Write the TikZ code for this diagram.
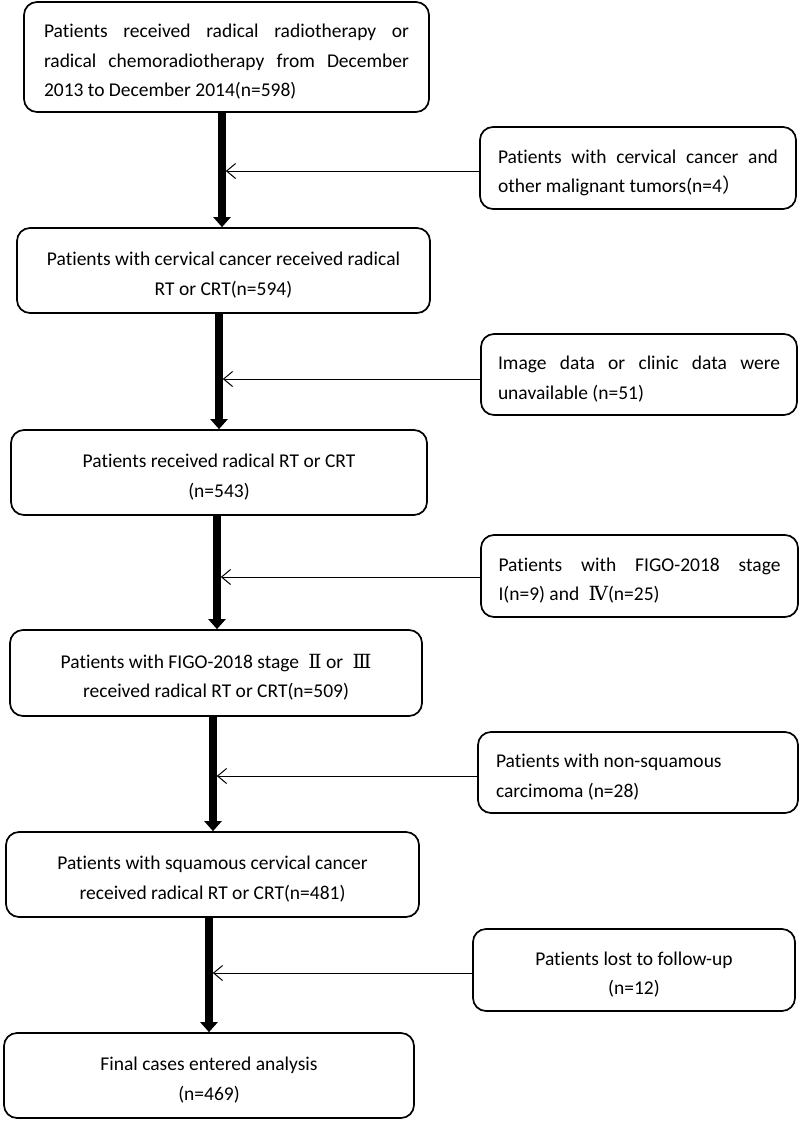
\documentclass[tikz,border=0pt]{standalone}
\usepackage{fontspec}
\setmainfont{Carlito}[Ligatures=NoCommon]
\newfontfamily\cjk{Noto Sans CJK SC}
\newfontfamily\romf{DejaVu Serif}
\usetikzlibrary{arrows.meta}
\tikzset{
  box/.style={draw, line width=1.7pt, rounded corners=13pt, inner sep=0pt,
    font=\fontsize{19.5}{29.5}\selectfont,
    execute at begin node={\spaceskip=0pt\xspaceskip=0pt\relax}},
  mainarrow/.style={line width=7.5pt, -{Triangle[length=10pt,width=17pt]}},
  sidearrow/.style={line width=1pt, -{Straight Barb[length=9pt,width=15pt]}},
}
\newcommand{\rn}[1]{{\romf #1}}
\newcommand{\st}{\rule{0pt}{23pt}}
\begin{document}
\begin{tikzpicture}[x=1pt,y=-1pt]
\fill[white] (0,0) rectangle (800,1122);
\useasboundingbox (0,0) rectangle (800,1122);

% main column
\node[box, minimum width=405pt, minimum height=110pt, text width=365pt, align=left] (b1) at (226.5,57)
  {\st\makebox[365pt][s]{Patients received radical radiotherapy or}\\
   \makebox[365pt][s]{radical chemoradiotherapy from December}\\
   2013 to December 2014(n=598)};
\node[box, minimum width=413pt, minimum height=85pt, align=center] (b2) at (223.5,270.5)
  {\st Patients with cervical cancer received radical\\ RT or CRT(n=594)};
\node[box, minimum width=416pt, minimum height=85pt, align=center] (b3) at (219,472.5)
  {\st Patients received radical RT or CRT\\ (n=543)};
\node[box, minimum width=412pt, minimum height=86pt, align=center] (b4) at (216,673)
  {\st Patients with FIGO-2018 stage \hspace{0.25em}\rn{Ⅱ} or \hspace{0.25em}\rn{Ⅲ}\\ received radical RT or CRT(n=509)};
\node[box, minimum width=413pt, minimum height=85pt, align=center] (b5) at (212.5,874.5)
  {\st Patients with squamous cervical cancer\\ received radical RT or CRT(n=481)};
\node[box, minimum width=410pt, minimum height=85pt, align=center] (b6) at (209,1075.5)
  {\st Final cases entered analysis\\ (n=469)};

% side boxes
\node[box, minimum width=316pt, minimum height=82pt, text width=280pt, align=left] (s1) at (638,168)
  {\st\makebox[280pt][s]{Patients with cervical cancer and}\\
   other malignant tumors(n=4{\cjk ）}};
\node[box, minimum width=316pt, minimum height=81pt, text width=282pt, align=left] (s2) at (639,374.5)
  {\st\makebox[282pt][s]{Image data or clinic data were}\\
   unavailable (n=51)};
\node[box, minimum width=317pt, minimum height=82pt, text width=282pt, align=left] (s3) at (639.5,576)
  {\st\makebox[282pt][s]{Patients with FIGO-2018 stage}\\
   I(n=9) and \hspace{0.25em}\rn{Ⅳ}(n=25)};
\node[box, minimum width=320pt, minimum height=81pt, text width=284pt, align=left] (s4) at (638,772.5)
  {\st Patients with non-squamous\\ carcimoma (n=28)};
\node[box, minimum width=322pt, minimum height=82pt, align=center] (s5) at (634,970)
  {\st Patients lost to follow-up\\ (n=12)};

% main arrows
\coordinate (x1) at (222,0);
\coordinate (x2) at (219,0);
\coordinate (x3) at (217,0);
\coordinate (x4) at (213,0);
\coordinate (x5) at (209,0);
\draw[mainarrow] (b1.south -| x1) -- (b2.north -| x1);
\draw[mainarrow] (b2.south -| x2) -- (b3.north -| x2);
\draw[mainarrow] (b3.south -| x3) -- (b4.north -| x3);
\draw[mainarrow] (b4.south -| x4) -- (b5.north -| x4);
\draw[mainarrow] (b5.south -| x5) -- (b6.north -| x5);

% side arrows
\coordinate (j1) at (225.8,171);
\coordinate (j2) at (222.8,379);
\coordinate (j3) at (220.8,577);
\coordinate (j4) at (216.8,776);
\coordinate (j5) at (212.8,973);
\draw[sidearrow] (s1.west |- j1) -- (j1);
\draw[sidearrow] (s2.west |- j2) -- (j2);
\draw[sidearrow] (s3.west |- j3) -- (j3);
\draw[sidearrow] (s4.west |- j4) -- (j4);
\draw[sidearrow] (s5.west |- j5) -- (j5);
\end{tikzpicture}
\end{document}
